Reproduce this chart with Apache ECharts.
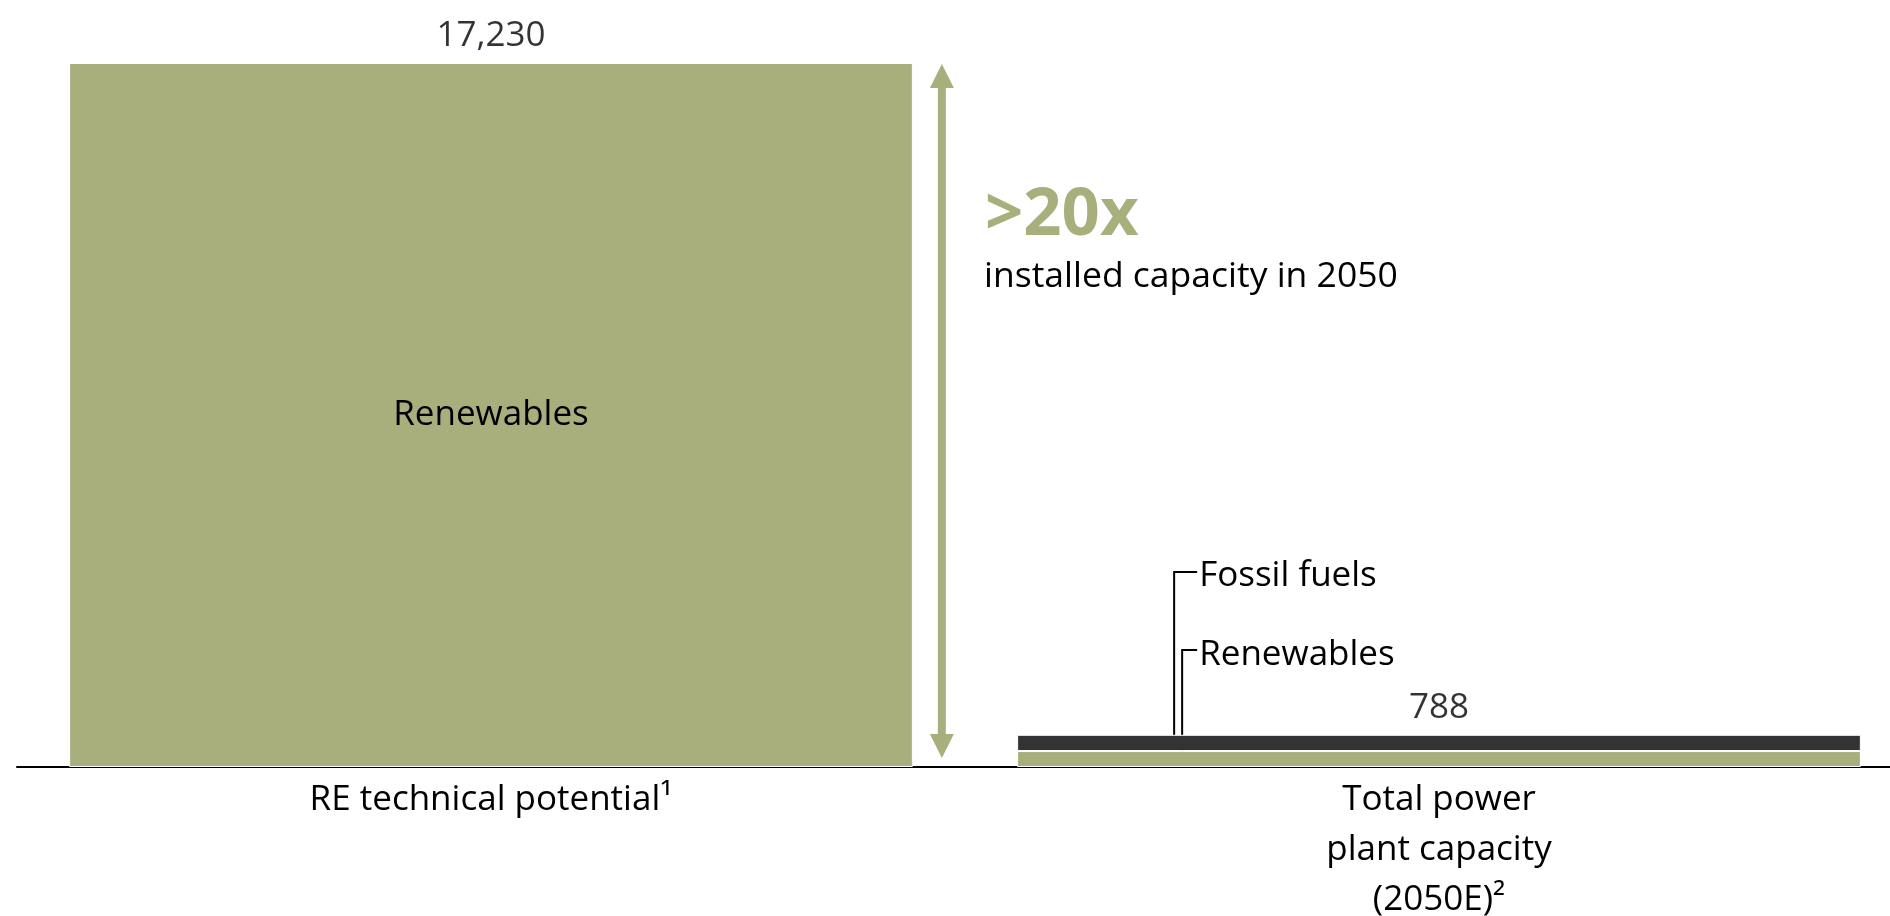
<!DOCTYPE html>
<html>
<head>
<meta charset="utf-8">
<script src="https://cdn.jsdelivr.net/npm/echarts@6/dist/echarts.min.js"></script>
<style>
html,body{margin:0;padding:0;background:#fff;overflow:hidden;}
#chart{width:1890px;height:916px;}
</style>
</head>
<body>
<div id="chart"></div>
<script>
// ---- data ----
const categories = ['RE technical potential\u00B9', 'Total power\nplant capacity\n(2050E)\u00B2'];
const renewables = [17230, 390];
const fossil = [null, 398];
const totals = [17230, 788];
const multipleText = '>20x';
const multipleSub = 'installed capacity in 2050';
const seriesNames = ['Renewables', 'Fossil fuels'];

const GREEN = '#a8af7c';
const DARK = '#333333';
const FONT = '"Open Sans", "Noto Sans", sans-serif';
const FS = 35;

const chart = echarts.init(document.getElementById('chart'));
const gap = 0.11;

chart.setOption({
  animation: false,
  textStyle: { fontFamily: FONT },
  grid: { left: 17, top: 63, width: 1896, bottom: 149, containLabel: false, outerBoundsMode: 'none' },
  xAxis: {
    type: 'category',
    data: categories,
    axisTick: { show: false },
    axisLine: { lineStyle: { color: '#000', width: 2 } },
    axisLabel: { interval: 0, fontSize: FS, color: '#000', lineHeight: 50, margin: 8, fontFamily: FONT }
  },
  yAxis: { type: 'value', min: 0, max: 17230, show: false, splitLine: { show: false } },
  series: [
    {
      name: seriesNames[0], type: 'bar', stack: 'a', barCategoryGap: (gap * 100) + '%',
      itemStyle: { color: GREEN, borderColor: '#fff', borderWidth: 1 },
      data: renewables.map((v, i) => i === 0
        ? { value: v, label: { show: true, position: 'inside', formatter: seriesNames[0], fontSize: FS, color: '#000', fontFamily: FONT } }
        : v)
    },
    {
      name: seriesNames[1], type: 'bar', stack: 'a',
      itemStyle: { color: DARK, borderColor: '#fff', borderWidth: 1 },
      data: fossil
    },
    {
      name: 'total', type: 'scatter', symbolSize: 1,
      itemStyle: { color: 'rgba(0,0,0,0)' },
      label: {
        show: true, position: 'top', distance: 6, fontSize: FS, color: '#000', lineHeight: 40, fontFamily: FONT,
        formatter: p => p.value.toLocaleString('en-US')
      },
      data: totals
    }
  ]
});

// ---- annotations positioned from the axes ----
const c0 = chart.convertToPixel({ xAxisIndex: 0 }, 0);
const c1 = chart.convertToPixel({ xAxisIndex: 0 }, 1);
const band = c1 - c0;
const bw = band * (1 - gap);
const yPix = v => chart.convertToPixel({ yAxisIndex: 0 }, v);

const y0 = yPix(0);
const yTop = yPix(renewables[0]);
const bar1Right = c0 + bw / 2;
const bar2Left = c1 - bw / 2;

const ax = bar1Right + 29;
const tipTop = yTop + 1;
const tipBot = y0 - 9;
const head = 24;

const fossilMid = yPix(renewables[1] + fossil[1] / 2);
const renewMid = yPix(renewables[1] / 2);
const fx = bar2Left + 157;
const rx = bar2Left + 165;
const lx = bar2Left + 180;
const fy = 572, ry = 650;

chart.setOption({
  graphic: [
    { type: 'rect', shape: { x: ax - 4, y: tipTop + head, width: 8, height: (tipBot - head) - (tipTop + head) }, style: { fill: GREEN } },
    { type: 'polygon', shape: { points: [[ax, tipTop], [ax - head / 2, tipTop + head], [ax + head / 2, tipTop + head]] }, style: { fill: GREEN } },
    { type: 'polygon', shape: { points: [[ax, tipBot], [ax - head / 2, tipBot - head], [ax + head / 2, tipBot - head]] }, style: { fill: GREEN } },
    { type: 'text', x: 985, y: 216, style: { text: multipleText, fill: GREEN, font: 'bold 67px ' + FONT, textVerticalAlign: 'middle', textAlign: 'left' } },
    { type: 'text', x: 984, y: 277, style: { text: multipleSub, fill: '#000', font: '35.5px ' + FONT, textVerticalAlign: 'middle', textAlign: 'left' } },
    { type: 'polyline', shape: { points: [[lx, fy], [fx, fy], [fx, fossilMid]] }, style: { stroke: '#000', lineWidth: 2, fill: null } },
    { type: 'polyline', shape: { points: [[lx, ry], [rx, ry], [rx, renewMid]] }, style: { stroke: '#000', lineWidth: 2, fill: null } },
    { type: 'text', x: lx + 2, y: fy + 4, style: { text: seriesNames[1], fill: '#000', font: FS + 'px ' + FONT, textVerticalAlign: 'middle', textAlign: 'left' } },
    { type: 'text', x: lx + 2, y: ry + 5, style: { text: seriesNames[0], fill: '#000', font: FS + 'px ' + FONT, textVerticalAlign: 'middle', textAlign: 'left' } }
  ]
});
</script>
</body>
</html>
